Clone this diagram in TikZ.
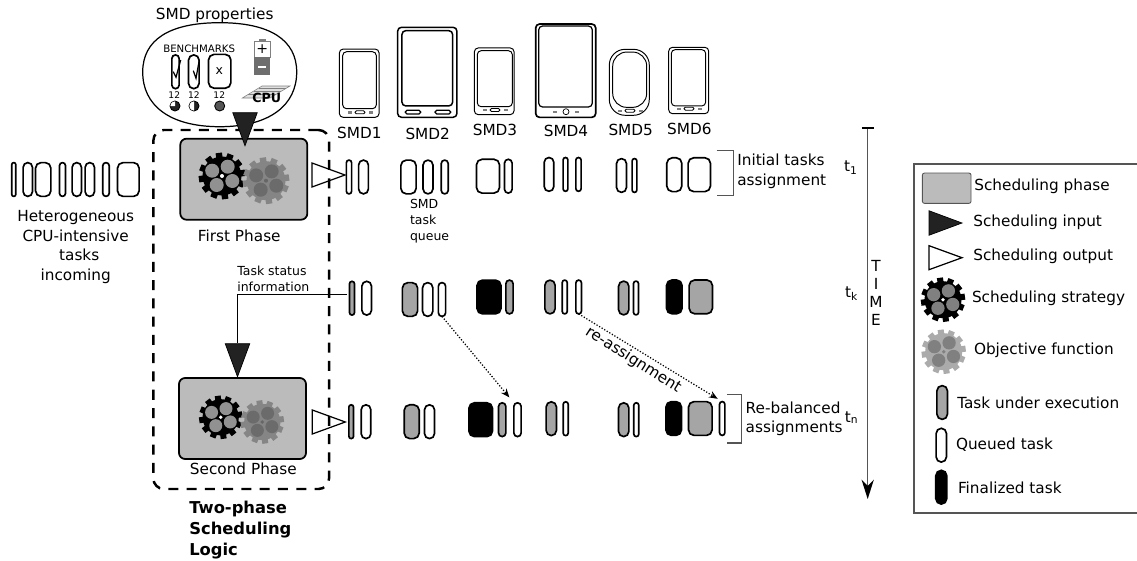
\documentclass[tikz,border=0pt]{standalone}
\usepackage{fontspec}
\setmainfont{DejaVu Sans}
\usepackage{tikz}
\usetikzlibrary{arrows.meta,positioning,shapes.geometric}
\definecolor{phasegray}{HTML}{BBBBBB}
\definecolor{taskgray}{HTML}{A5A5A5}
\definecolor{inkgray}{HTML}{555555}
\definecolor{darktri}{HTML}{222222}

\begin{document}
\begin{tikzpicture}[
    x=0.02cm, y=-0.02cm,
    every node/.style={font=\fontsize{8.7}{11.1}\selectfont, align=center, inner sep=0pt, outer sep=0pt},
    small/.style={font=\fontsize{7.1}{9.1}\selectfont},
    taskbase/.style={draw=black, line width=0.95pt, minimum height=33.8*0.02cm, minimum width=(#1-1.7)*0.02cm, rounded corners={min(#1/2-0.85,5.5)*0.02cm}},
    taskq/.style={taskbase=#1, fill=white},
    taskx/.style={taskbase=#1, fill=taskgray},
    taskf/.style={taskbase=#1, fill=black},
    phone/.style args={#1/#2}{draw=black, line width=0.55pt, fill=white, minimum width=#1*0.02cm, minimum height=#2*0.02cm, rounded corners=2.2pt},
    phase/.style={draw=black, line width=1pt, fill=phasegray, rounded corners=3.5pt, minimum width=127*0.02cm, minimum height=81*0.02cm},
    intri/.style={isosceles triangle, isosceles triangle stretches, draw=black, fill=darktri, line width=0.4pt, minimum width=24.5*0.02cm, minimum height=33*0.02cm},
    outtri/.style={isosceles triangle, isosceles triangle stretches, draw=black, fill=white, line width=0.7pt, minimum width=24*0.02cm, minimum height=33*0.02cm},
    bracketline/.style={draw=inkgray, line width=0.6pt},
    reassign/.style={densely dotted, line width=0.7pt, -{Stealth[length=5pt,width=4pt]}},
    pics/gearwheel/.style n args={3}{code={
      \fill[#1] (0,0) circle [radius=19.5];
      \foreach \a in {0,30,...,330} {
        \fill[#1, rotate=\a+8] (-3.2,17) rectangle (3.2,23.3);
      }
      \fill[#2] (5.7,-9.3) circle [radius=7];
      \fill[#2] (10.3,5) circle [radius=7];
      \fill[#2] (-5.3,9) circle [radius=7];
      \fill[#2] (-9.8,-5.3) circle [radius=7];
      \fill[#3] (0,0) circle [radius=2];
    }},
    pics/phonekeys/.style={code={
      \fill[gray] (-12,-1.2) rectangle (-8,1.2);
      \draw[line width=0.5pt, rounded corners=0.8pt] (-5,-1.5) rectangle (5,1.5);
      \fill[gray] (9,-1.2) rectangle (13,1.2);
    }}
  ]
    \useasboundingbox (0,0) rectangle (1137,561);

    % Incoming tasks
    \node[taskq=5.7] (inc1) at (13.8,179.5) {};
    \node[taskq=11] (inc2) at (27.8,179.5) {};
    \node[taskq=17] (inc3) at (43.2,179.5) {};
    \node[taskq=7.7] (inc4) at (62.5,179.5) {};
    \node[taskq=11] (inc5) at (76.8,179.5) {};
    \node[taskq=11] (inc6) at (89.8,179.5) {};
    \node[taskq=8.3] (inc7) at (106,179.5) {};
    \node[taskq=23.3] (inc8) at (128.3,179.5) {};
    \node (inctext) at (75.7,247) {Heterogeneous\\CPU-intensive\\\hspace{4pt}tasks\\incoming};

    % SMD properties
    \node (proptext) at (214.7,15) {SMD properties};
    \draw[line width=0.7pt] (219.7,22.7) .. controls (270,22.7) and (296.7,40) .. (296.7,72)
      .. controls (296.7,105) and (270,126.7) .. (219.7,126.7)
      .. controls (169,126.7) and (142.7,105) .. (142.7,72)
      .. controls (142.7,40) and (169,22.7) .. (219.7,22.7) -- cycle;
    \node[font=\fontsize{5.8}{7}\selectfont] (benchtext) at (199.2,48.3) {BENCHMARKS};
    \node[taskq=9] (bench1) at (175.5,71.8) {};
    \node[taskq=12.3] (bench2) at (193.8,71.8) {};
    \node[taskq=24] (bench3) at (219.7,71.3) {};
    \node[small] (benchx) at (219.3,71) {x};
    \draw[line width=0.7pt] (173.3,71.7) -- (176,77.3) -- (180.7,60);
    \draw[line width=0.7pt] (193.3,70.7) -- (196,78.3) -- (199.3,60);
    \node[font=\fontsize{5.2}{6}\selectfont] (num1) at (174.3,95) {12};
    \node[font=\fontsize{5.2}{6}\selectfont] (num2) at (194,95) {12};
    \node[font=\fontsize{5.2}{6}\selectfont] (num3) at (219.3,95) {12};
    \filldraw[fill=darktri, line width=0.5pt] (175,106) circle [radius=5];
    \fill[white] (175,106) -- ++(180:4.7) arc (180:270:4.7) -- cycle;
    \filldraw[fill=darktri, line width=0.5pt] (194,106) circle [radius=5];
    \fill[white] (194,106) -- ++(90:4.7) arc (90:270:4.7) -- cycle;
    \filldraw[fill=inkgray, line width=0.5pt] (219.7,106) circle [radius=5];

    % Battery and CPU
    \fill[gray] (258.7,39.3) rectangle (265.5,41.5);
    \filldraw[draw=gray, fill=white, line width=0.5pt] (254.5,41.5) rectangle (270,57.3);
    \fill[inkgray!85] (254.3,57.3) rectangle (270,75);
    \node[font=\fontsize{8}{8}\selectfont] (plus) at (262.3,48.8) {+};
    \fill[white] (257.5,66.2) rectangle (266,68.4);
    \filldraw[draw=gray, fill=gray!25, line width=0.3pt] (242.3,98) -- (262,86) -- (290,86) -- (270,98) -- cycle;
    \draw[gray, line width=0.25pt] (248,94.5) -- (276,94.5) (254,91) -- (281,91) (259,88) -- (286,88);
    \node[font=\bfseries\fontsize{7.2}{8}\selectfont] (cputext) at (266.7,97.7) {CPU};

    % Phones
    \node[phone=39.7/68.3] (smd1) at (359.2,83.2) {};
    \node[phone=33.6/57] (screen1) at (359.5,80.2) {};
    \pic at (360,112.3) {phonekeys};
    \node[phone=59.3/90, line width=0.85pt] (smd2) at (427.3,72.3) {};
    \node[phone=50.7/75.3, line width=0.85pt] (screen2) at (427.3,68.3) {};
    \draw[line width=0.7pt, rounded corners=1pt] (405.3,110.3) rectangle (420.7,114);
    \draw[line width=0.7pt, rounded corners=1pt] (435,110.3) rectangle (450.7,114);
    \node[phone=39.7/66.7] (smd3) at (494.2,81.3) {};
    \node[phone=35/56] (screen3) at (494.8,78.7) {};
    \pic at (495,110) {phonekeys};
    \node[phone=60/93.3, line width=0.95pt] (smd4) at (565.7,70.7) {};
    \node[phone=53.6/81, line width=0.7pt] (screen4) at (565.5,66.5) {};
    \draw[line width=0.4pt] (566,111.7) circle [radius=3];
    \fill[gray] (553,110.5) rectangle (557,113);
    \fill[gray] (575,110.5) rectangle (579,113);
    \node[phone=40/66, rounded corners=9pt] (smd5) at (629.3,82.3) {};
    \node[phone=34/55.3, rounded corners=8pt] (screen5) at (629.7,79.7) {};
    \pic at (630,110.7) {phonekeys};
    \node[phone=40/66.4] (smd6) at (688.7,80.5) {};
    \node[phone=34.4/56.3] (screen6) at (688.5,77.8) {};
    \pic at (689,108.7) {phonekeys};
    \node (name1) at (359.3,133.3) {SMD1};
    \node (name2) at (427.7,134) {SMD2};
    \node (name3) at (495,130) {SMD3};
    \node (name4) at (566,131) {SMD4};
    \node (name5) at (630.7,130) {SMD5};
    \node (name6) at (689.3,128.7) {SMD6};

    % Two-phase logic
    \node[outtri, anchor=apex] (out1) at (345,175) {};
    \node[outtri, anchor=apex] (out2) at (345.3,422) {};
    \node[draw=black, line width=1.4pt, dash pattern=on 5.7pt off 4.7pt, rounded corners=6pt, minimum width=175.7*0.02cm, minimum height=359*0.02cm] (logicbox) at (241.2,309.5) {};
    \node[phase] (phase1) at (243.8,179.2) {};
    \node[phase] (phase2) at (242.5,418.5) {};
    \pic at (222,176) {gearwheel={black}{black!43}{white}};
    \pic at (266,180.7) {gearwheel={black!48}{black!58}{black!60}};
    \pic[scale=0.93] at (220.7,417.3) {gearwheel={black}{black!43}{white}};
    \pic[scale=0.93] at (262.3,422) {gearwheel={black!48}{black!58}{black!60}};
    \node[intri, shape border rotate=-90, anchor=apex] (in1) at (245,145.7) {};
    \node[intri, shape border rotate=-90, anchor=apex] (in2) at (237.5,376.7) {};
    \node (firsttext) at (239.3,235.5) {First Phase};
    \node (secondtext) at (243.3,469) {Second Phase};
    \node[font=\bfseries\fontsize{9.3}{11.8}\selectfont, align=left, anchor=north west] (logictext) at (189.3,501.5) {Two-phase\\Scheduling\\Logic};

    % Initial assignment
    \node[taskq=7] (a1a) at (349,177) {};
    \node[taskq=11.5] (a1b) at (363.5,177) {};
    \node[taskq=17] (a2a) at (408.5,177) {};
    \node[taskq=11.7] (a2b) at (428,177) {};
    \node[taskq=8.7] (a2c) at (444.7,177) {};
    \node[taskq=24.7] (a3a) at (488,176.2) {};
    \node[taskq=9.3] (a3b) at (508.3,176.2) {};
    \node[taskq=11.3] (a4a) at (549,174.4) {};
    \node[taskq=6.4] (a4b) at (565.5,174.4) {};
    \node[taskq=7] (a4c) at (578.5,174.4) {};
    \node[taskq=11.7] (a5a) at (621.5,175.5) {};
    \node[taskq=6.4] (a5b) at (634.5,175.5) {};
    \node[taskq=16.7] (a6a) at (674.3,174.7) {};
    \node[taskq=24] (a6b) at (699.3,174.7) {};
    \node[small, align=left, anchor=west] (queuetext) at (410,221.5) {SMD\\task\\queue};

    % Status at t_k
    \node[taskx=6.7] (k1a) at (352,298.2) {};
    \node[taskq=11.3] (k1b) at (366.7,298.2) {};
    \node[taskx=17] (k2a) at (410,299.5) {};
    \node[taskq=12] (k2b) at (427.7,299.5) {};
    \node[taskq=9] (k2c) at (442,299.5) {};
    \node[taskf=25.7] (k3a) at (489,297) {};
    \node[taskx=9] (k3b) at (509.5,297) {};
    \node[taskx=12] (k4a) at (550,297) {};
    \node[taskq=6.7] (k4b) at (564.7,297) {};
    \node[taskq=7.3] (k4c) at (578.7,297) {};
    \node[taskx=12] (k5a) at (623.7,298) {};
    \node[taskq=6.7] (k5b) at (636,298) {};
    \node[taskf=17.3] (k6a) at (674.3,296.9) {};
    \node[taskx=25] (k6b) at (700.8,296.9) {};

    % Re-balanced assignment
    \node[taskx=6.4] (n1a) at (351.2,421.7) {};
    \node[taskq=11.3] (n1b) at (366,421.7) {};
    \node[taskx=16.7] (n2a) at (411.7,421.7) {};
    \node[taskq=11.7] (n2b) at (429.5,421.7) {};
    \node[taskf=25.3] (n3a) at (480.7,419.7) {};
    \node[taskx=9] (n3b) at (502.2,419.7) {};
    \node[taskq=9] (n3c) at (517.5,419.7) {};
    \node[taskx=12] (n4a) at (551.3,418.7) {};
    \node[taskq=6.7] (n4b) at (565.7,418.7) {};
    \node[taskx=12] (n5a) at (623.7,419.7) {};
    \node[taskq=6.7] (n5b) at (636.3,419.7) {};
    \node[taskf=17.3] (n6a) at (673.7,418.5) {};
    \node[taskx=25.3] (n6b) at (700.3,418.5) {};
    \node[taskq=7] (n6c) at (722.2,418.5) {};

    % Connections
    \coordinate (statusstart) at (347,294.3);
    \coordinate (statusend) at (237.7,343);
    \draw[line width=0.7pt] (statusstart) -| (statusend);
    \node[small, align=left, anchor=south west] (statustext) at (237.3,292) {Task status\\information};
    \draw[reassign, shorten >=4pt] (k2c.south) -- (n3c.north west);
    \draw[reassign, shorten >=3pt] (k4c.south) -- (n6c.north);
    \node[rotate=-32.5] (reassigntext) at (633.3,360) {re-assignment};

    % Brackets and time axis
    \draw[bracketline] (716.7,150.7) -| (733.7,195.7) -- (716.7,195.7);
    \node[align=left, anchor=west] (inittext) at (737.3,171.3) {Initial tasks\\assignment};
    \draw[bracketline] (727.3,394.3) -| (741.7,443) -- (727.3,443);
    \node[align=left, anchor=west] (rebaltext) at (745.7,419) {Re-balanced\\assignments};
    \node (t1) at (851,167.7) {t\textsubscript{1}};
    \node (tk) at (851.7,293.3) {t\textsubscript{k}};
    \node (tn) at (851.7,417.7) {t\textsubscript{n}};
    \coordinate (timetop) at (867.7,127.3);
    \coordinate (timeend) at (867.7,499);
    \draw[inkgray, line width=0.85pt, {Bar[black,width=6.6pt]}-{Stealth[black,length=11pt,width=7pt]}] (timetop) -- (timeend);
    \node[font=\fontsize{8.7}{10.4}\selectfont] (timetext) at (876,293) {T\\I\\M\\E};

    % Legend
    \draw[inkgray, line width=1pt] (1140,164.3) -- (913.7,164.3) -- (913.7,513.3) -- (1140,513.3);
    \node[draw=inkgray, fill=phasegray, line width=0.5pt, rounded corners=1.2pt, minimum width=48.7*0.02cm, minimum height=30.3*0.02cm] (legphase) at (946.7,188.2) {};
    \node[intri, anchor=apex] (legin) at (962,223) {};
    \node[outtri, anchor=apex] (legout) at (962,257.7) {};
    \pic[scale=0.95] at (943,299.7) {gearwheel={black}{black!50}{white}};
    \pic[scale=0.95] at (943.7,351.7) {gearwheel={black!33}{black!50}{black!50}};
    \node[taskx=12.3] (legexec) at (942.2,402.5) {};
    \node[taskq=12] (legqueue) at (941.3,445.2) {};
    \node[taskf=12.7] (legfinal) at (941.3,487.2) {};
    \node[anchor=west] (textphase) at (974.3,186.7) {Scheduling phase};
    \node[anchor=west] (textin) at (973.3,222.7) {Scheduling input};
    \node[anchor=west] (textout) at (973.3,256) {Scheduling output};
    \node[anchor=west] (textstrat) at (972,298.3) {Scheduling strategy};
    \node[anchor=west] (textobj) at (974,350) {Objective function};
    \node[anchor=west] (textexec) at (957.3,402.3) {Task under execution};
    \node[anchor=west] (textqueue) at (956,444.3) {Queued task};
    \node[anchor=west] (textfinal) at (958,487.7) {Finalized task};
  \end{tikzpicture}
\end{document}
